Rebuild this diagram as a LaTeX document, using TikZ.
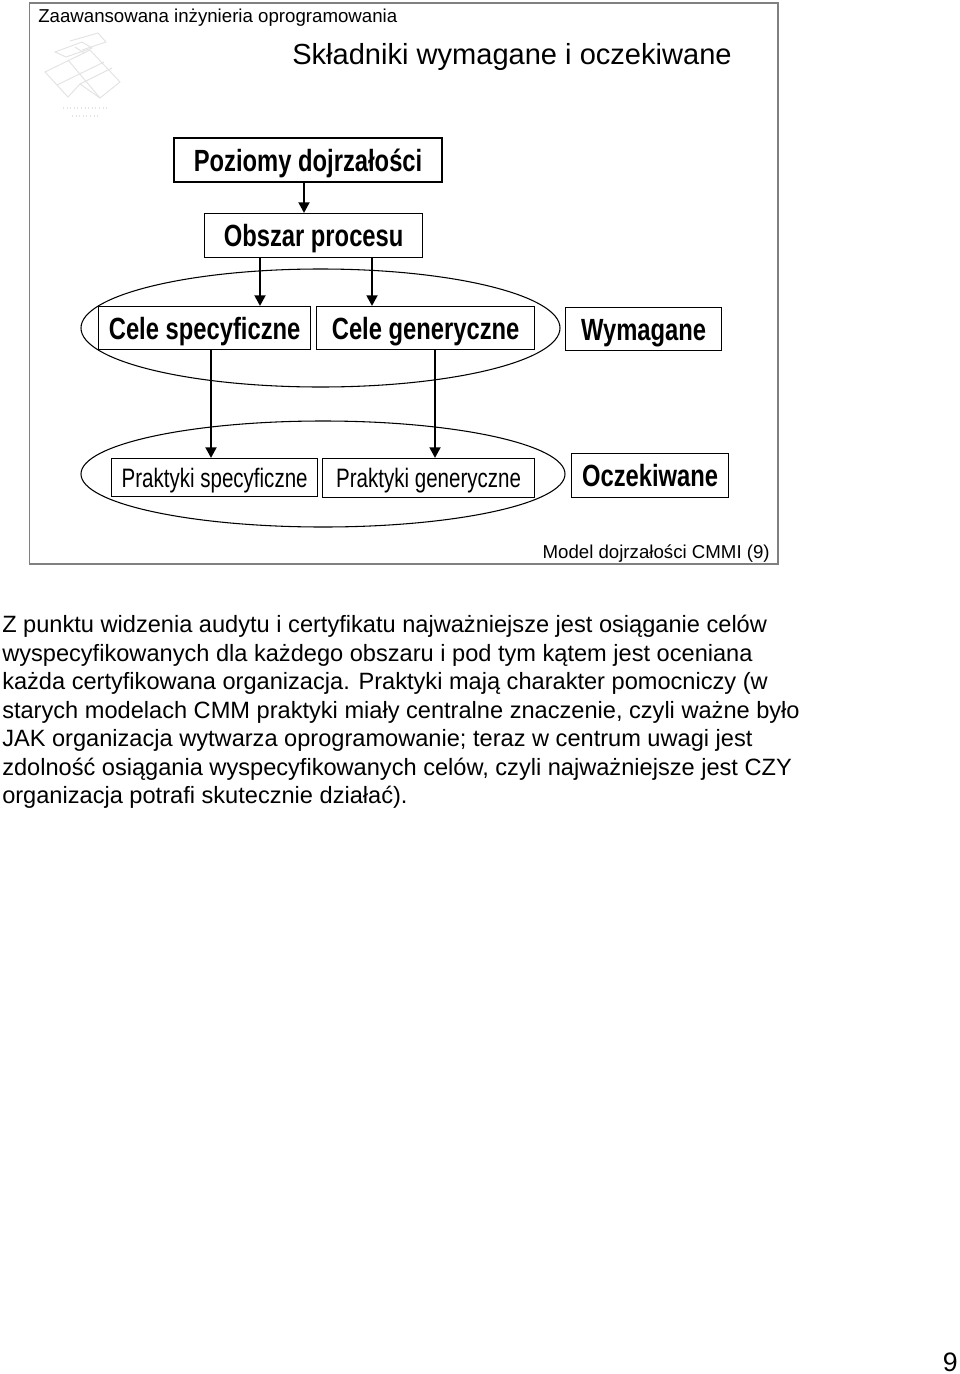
\documentclass[tikz,border=0pt]{standalone}
\usepackage{fontspec}
\setmainfont{Liberation Sans}
\newfontfamily\narrowreg[FakeStretch=0.77]{Liberation Sans}
\newfontfamily\narrowbold[FakeStretch=0.775]{Liberation Sans Bold}
\usetikzlibrary{arrows.meta,shapes.geometric}
\definecolor{framegray}{gray}{0.5}
\definecolor{logogray}{gray}{0.89}
\tikzset{
  x=0.75pt,y=-0.75pt,
  boxbase/.style={draw,rectangle,inner sep=0pt,anchor=north west,fill=white},
  heavybox/.style={boxbase,line width=1.6pt},
  lightbox/.style={boxbase,line width=0.95pt},
  boldlabel/.style={font=\fontsize{23}{26}\narrowbold,text height=16.5pt,text depth=0pt},
  reglabel/.style={font=\fontsize{20}{24}\narrowreg,text height=14.4pt,text depth=0pt},
  arr/.style={line width=2pt,-{Triangle[length=8pt,width=8pt]}},
  group/.style={draw,line width=0.8pt,ellipse,inner sep=0pt},
  logoline/.style={draw=logogray,line width=0.7pt},
}
\newcommand{\boxat}[7]{\node[#1,minimum width=#4*0.75pt,minimum height=#5*0.75pt,#7] (#2) at (#3) {#6};}
\begin{document}
\begin{tikzpicture}
\useasboundingbox (0,0) rectangle (960,1374);
\fill[white] (0,0) rectangle (960,1374);
% frame
\draw[framegray,line width=0.8pt] (29.5,3) rectangle (778,564);
% logo
\draw[logoline] (45,72) -- (90,50) -- (120,82) -- (100,98) -- (80,84) -- (68,97) -- cycle;
\draw[logoline] (57,85) -- (104,62);
\draw[logoline] (68,60) -- (100,98);
\draw[logoline] (80,84) -- (112,68);
\draw[logoline] (55,52) -- (82,42) -- (92,48) -- (66,57) -- cycle;
\draw[logoline] (70,41) -- (98,33) -- (106,42) -- (82,50);
\draw[logoline] (75,47) -- (84,53);
\draw[logoline,dotted,line width=1.2pt] (63,108) -- (109,108);
\draw[logoline,dotted,line width=1.2pt] (72,116) -- (100,116);
% headings
\node[anchor=base west,inner sep=0pt,font=\fontsize{14}{16}\selectfont] (course) at (38,22.5) {Zaawansowana inżynieria oprogramowania};
\node[anchor=base west,inner sep=0pt,font=\fontsize{21.8}{24}\selectfont] (title) at (292,64.5) {Składniki wymagane i oczekiwane};
% ellipses
\node[group,minimum width=479*0.75pt,minimum height=118*0.75pt] (e1) at (320.5,328) {};
\node[group,minimum width=484*0.75pt,minimum height=106*0.75pt] (e2) at (323,474) {};
% boxes
\boxat{heavybox}{pd}{173,137}{268}{44}{Poziomy dojrzałości}{boldlabel}
\boxat{lightbox}{ob}{204,213}{218}{44}{Obszar procesu}{boldlabel}
\boxat{lightbox}{cs}{98,306}{212}{43}{Cele specyficzne}{boldlabel}
\boxat{lightbox}{cg}{316,306}{218}{43}{Cele generyczne}{boldlabel}
\boxat{lightbox}{wy}{565,307}{156}{43}{Wymagane}{boldlabel}
\boxat{lightbox}{ps}{111,458}{206}{38}{Praktyki specyficzne}{reglabel}
\boxat{lightbox}{pg}{322,458}{212}{39}{Praktyki generyczne}{reglabel}
\boxat{lightbox}{oc}{571,453}{157}{44}{Oczekiwane}{boldlabel}
% connectors
\coordinate (xa) at (304,0);
\coordinate (xb) at (260,0);
\coordinate (xc) at (372,0);
\coordinate (xd) at (211,0);
\coordinate (xe) at (435,0);
\draw[arr] (pd.south -| xa) -- (ob.north -| xa);
\draw[arr] (ob.south -| xb) -- (cs.north -| xb);
\draw[arr] (ob.south -| xc) -- (cg.north -| xc);
\draw[arr] (cs.south -| xd) -- (ps.north -| xd);
\draw[arr] (cg.south -| xe) -- (pg.north -| xe);
% caption
\node[anchor=base east,inner sep=0pt,font=\fontsize{14}{16}\selectfont] (cap) at (770,558) {Model dojrzałości CMMI (9)};
% body
\node[anchor=north west,inner sep=0pt,align=left,font=\fontsize{17.7}{21.4}\selectfont] (body) at (2,615) {Z punktu widzenia audytu i certyfikatu najważniejsze jest osiąganie celów\\
wyspecyfikowanych dla każdego obszaru i pod tym kątem jest oceniana\\
każda certyfikowana organizacja. Praktyki mają charakter pomocniczy (w\\
starych modelach CMM praktyki miały centralne znaczenie, czyli ważne było\\
JAK organizacja wytwarza oprogramowanie; teraz w centrum uwagi jest\\
zdolność osiągania wyspecyfikowanych celów, czyli najważniejsze jest CZY\\
organizacja potrafi skutecznie działać).};
\node[anchor=base east,inner sep=0pt,font=\fontsize{20}{24}\selectfont] (page) at (958,1371) {9};
\end{tikzpicture}
\end{document}
